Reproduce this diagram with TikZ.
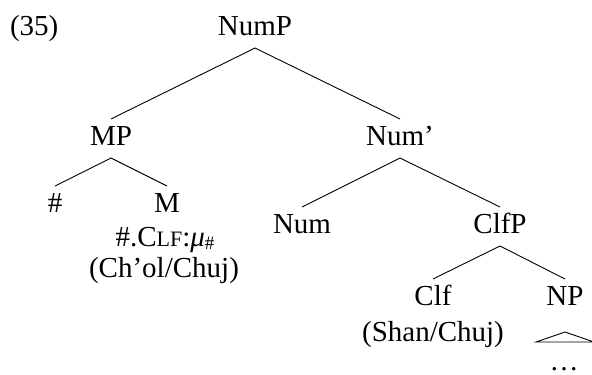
\documentclass[tikz,border=0pt]{standalone}
\usepackage{fontspec}
\setmainfont{Liberation Serif}
\usetikzlibrary{calc}
\tikzset{
  lbl/.style={anchor=base, inner sep=0pt, outer sep=0pt, font=\fontsize{29}{32}\selectfont},
  branch/.style={line width=0.9pt, black},
}
\newcommand{\smc}[1]{{\fontsize{22}{24}\selectfont #1}}
\begin{document}
\begin{tikzpicture}[x=1pt,y=-1pt]
\useasboundingbox (0,0) rectangle (592,375);
\node[lbl, anchor=base west] (ex) at (10,35) {(35)};
\node[lbl] (nump) at (255,35) {NumP};
\node[lbl] (mp) at (111,145) {MP};
\node[lbl] (numbar) at (400,145) {Num'};
\node[lbl] (hash) at (55,212) {\#};
\node[lbl] (m) at (167,212) {M};
\node[lbl] (mgloss) at (165,246) {\#.C\smc{LF}:{\itshape μ}\raisebox{-0.3ex}{\fontsize{19}{20}\selectfont\#}};
\node[lbl] (mlang) at (164,277) {(Ch'ol/Chuj)};
\node[lbl] (num) at (302,233) {Num};
\node[lbl] (clfp) at (500,233) {ClfP};
\node[lbl] (clf) at (433,305) {Clf};
\node[lbl] (np) at (565,305) {NP};
\node[lbl] (clflang) at (433,341) {(Shan/Chuj)};
\node[lbl] (dots) at (564,370) {\dots};
\newcommand{\br}[2]{\draw[branch] ($(#1.base)+(0,13)$) -- ($(#2.base)+(0,-26)$);}
\br{nump}{mp}
\br{nump}{numbar}
\br{mp}{hash}
\br{mp}{m}
\br{numbar}{num}
\br{numbar}{clfp}
\br{clfp}{clf}
\br{clfp}{np}
\draw[branch] ($(np.base)+(0,27)$) -- ($(np.base)+(-29,37)$) -- ($(np.base)+(29,37)$) -- cycle;
\end{tikzpicture}
\end{document}
